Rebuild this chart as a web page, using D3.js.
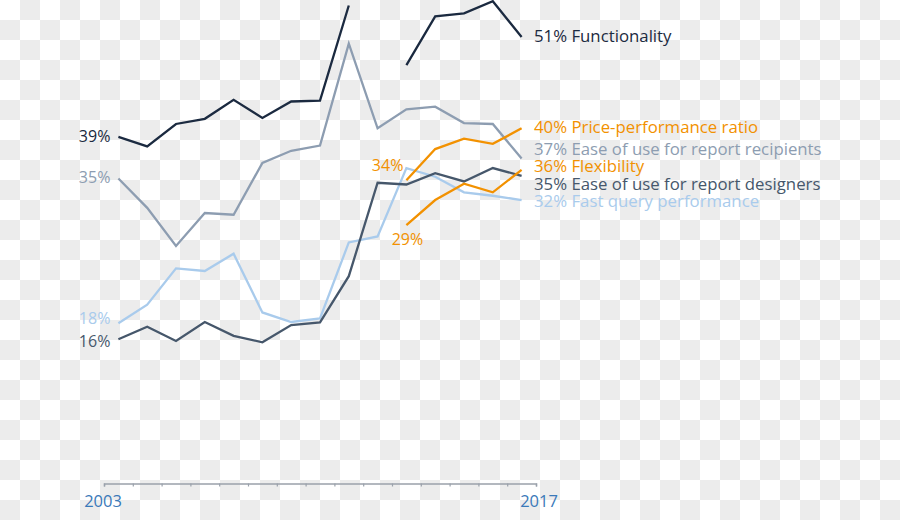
<!DOCTYPE html>
<html>
<head>
<meta charset="utf-8">
<script src="https://cdn.jsdelivr.net/npm/d3@7"></script>
<style>
  html, body { margin: 0; padding: 0; background: #fff; }
  svg { display: block; font-family: "Open Sans", "DejaVu Sans", sans-serif; }
</style>
</head>
<body>
<svg id="chart" width="900" height="520"></svg>
<script>
// ---------------- DATA ----------------
const years = [2003, 2004, 2005, 2006, 2007, 2008, 2009, 2010, 2011, 2012, 2013, 2014, 2015, 2016, 2017];
const axisLabels = ["2003", "2017"];
const seriesNames = [
  "Ease of use for report recipients",
  "Fast query performance",
  "Ease of use for report designers",
  "Flexibility",
  "Price-performance ratio",
  "Functionality"
];
const recipients   = [34.6, 31.2, 26.8, 30.6, 30.4, 36.4, 37.8, 38.4, 50.2, 40.4, 42.6, 42.9, 41.0, 40.9, 36.9];
const fastQuery    = [17.85, 20.0, 24.2, 23.9, 25.9, 19.1, 18.0, 18.4, 27.2, 27.9, 35.8, 34.8, 33.0, 32.6, 32.1];
const designers    = [16.0, 17.45, 15.8, 18.0, 16.4, 15.65, 17.65, 17.95, 23.3, 34.1, 33.9, 35.2, 34.25, 35.8, 34.9];
const flexibility  = [null, null, null, null, null, null, null, null, null, null, 29.2, 32.1, 34.0, 33.0, 35.6];
const price        = [null, null, null, null, null, null, null, null, null, null, 34.4, 38.0, 39.2, 38.6, 40.4];
const functionality= [39.4, 38.3, 40.9, 41.5, 43.7, 41.6, 43.5, 43.6, 54.6, null, 47.7, 53.35, 53.7, 55.1, 50.96];

const seriesValues = [recipients, fastQuery, designers, flexibility, price, functionality];

// ---------------- STYLE ----------------
const colors = ["#8d9db1", "#a9cbec", "#46576b", "#f29100", "#f29100", "#1b2a40"];
// how the first-value label is placed: "left" = left of the first point, "above" = above-left, "below" = centered below
const startStyle = ["left", "left", "left", "below", "above", "left"];

const svg = d3.select("#chart");
const W = 900, H = 520;

// checkerboard background (as in the reference picture)
const defs = svg.append("defs");
const pat = defs.append("pattern").attr("id", "checker")
  .attr("width", 40).attr("height", 40).attr("patternUnits", "userSpaceOnUse");
pat.append("rect").attr("width", 40).attr("height", 40).attr("fill", "#ffffff");
pat.append("rect").attr("x", 20).attr("y", 0).attr("width", 20).attr("height", 20).attr("fill", "#ececec");
pat.append("rect").attr("x", 0).attr("y", 20).attr("width", 20).attr("height", 20).attr("fill", "#ececec");
svg.append("rect").attr("width", W).attr("height", H).attr("fill", "url(#checker)");

// scales
const x = d3.scaleBand().domain(years).range([104, 536]).padding(0);
const xc = d => x(d) + x.bandwidth() / 2;
const y = d3.scaleLinear().domain([0, 50]).range([477.6, 45.3]);

// axis
const axisY = 483.5;
const boundaries = years.map(d => x(d)).concat([x.range()[1]]);
const axisScale = d3.scaleLinear().domain([0, boundaries.length - 1]).range([boundaries[0], boundaries[boundaries.length - 1]]);
const axisG = svg.append("g").attr("transform", `translate(0,${axisY})`)
  .call(d3.axisBottom(axisScale).tickValues(d3.range(boundaries.length)).tickSize(3).tickFormat(""));
axisG.select(".domain").attr("stroke", "#9aa1ab").attr("stroke-width", 1.5);
axisG.selectAll(".tick line").attr("stroke", "#9aa1ab").attr("stroke-width", 1.2);

svg.append("g").selectAll("text").data(axisLabels).join("text")
  .attr("x", (d, i) => i === 0 ? x.range()[0] - 1 : x.range()[1] + 3)
  .attr("y", 506.7)
  .attr("text-anchor", "middle")
  .attr("font-size", 16.5)
  .attr("fill", "#3a79b9")
  .text(d => d);

// lines
const line = d3.line()
  .defined(d => d.v !== null)
  .x(d => xc(d.year))
  .y(d => y(d.v));

const series = seriesNames.map((name, i) => ({
  name, color: colors[i], start: startStyle[i],
  pts: years.map((yr, j) => ({ year: yr, v: seriesValues[i][j] }))
}));

svg.append("g").selectAll("path").data(series).join("path")
  .attr("d", s => line(s.pts))
  .attr("fill", "none")
  .attr("stroke", s => s.color)
  .attr("stroke-width", 2.3)
  .attr("stroke-linejoin", "miter");

// label dodging: clusters centered on their targets
function dodge(items, gap) {
  items.sort((a, b) => a.target - b.target);
  let clusters = items.map(it => ({ members: [it] }));
  const place = c => {
    const mean = d3.mean(c.members, m => m.target);
    const n = c.members.length;
    c.members.forEach((m, k) => m.pos = mean + (k - (n - 1) / 2) * gap);
  };
  clusters.forEach(place);
  let merged = true;
  while (merged) {
    merged = false;
    for (let k = 0; k < clusters.length - 1; k++) {
      const a = clusters[k], b = clusters[k + 1];
      const aLast = a.members[a.members.length - 1].pos, bFirst = b.members[0].pos;
      if (bFirst - aLast < gap) {
        const c = { members: a.members.concat(b.members) };
        place(c);
        clusters.splice(k, 2, c);
        merged = true;
        break;
      }
    }
  }
  return items;
}

// end labels
const endItems = series.map(s => {
  const last = s.pts[s.pts.length - 1];
  return { s, last, target: y(last.v) };
});
dodge(endItems, 17.5);
svg.append("g").selectAll("text").data(endItems).join("text")
  .attr("x", 534)
  .attr("y", d => d.pos - 1)
  .attr("dy", "0.35em")
  .attr("font-size", 16.8)
  .attr("fill", d => d.s.color)
  .text(d => `${Math.round(d.last.v)}% ${d.s.name}`);

// start labels
const startItems = series.map(s => {
  const first = s.pts.find(p => p.v !== null);
  return { s, first, target: y(first.v) };
});
const leftItems = dodge(startItems.filter(d => d.s.start === "left"), 23);
svg.append("g").selectAll("text").data(leftItems).join("text")
  .attr("x", d => xc(d.first.year) - 8)
  .attr("y", d => d.pos - 1)
  .attr("dy", "0.35em")
  .attr("text-anchor", "end")
  .attr("font-size", 16)
  .attr("fill", d => d.s.color)
  .text(d => `${Math.round(d.first.v)}%`);

const otherItems = startItems.filter(d => d.s.start !== "left");
svg.append("g").selectAll("text").data(otherItems).join("text")
  .attr("x", d => d.s.start === "above" ? xc(d.first.year) - 3 : xc(d.first.year) + 1)
  .attr("y", d => d.s.start === "above" ? d.target - 15 : d.target + 14)
  .attr("dy", "0.35em")
  .attr("text-anchor", d => d.s.start === "above" ? "end" : "middle")
  .attr("font-size", 16)
  .attr("fill", d => d.s.color)
  .text(d => `${Math.round(d.first.v)}%`);
</script>
</body>
</html>
